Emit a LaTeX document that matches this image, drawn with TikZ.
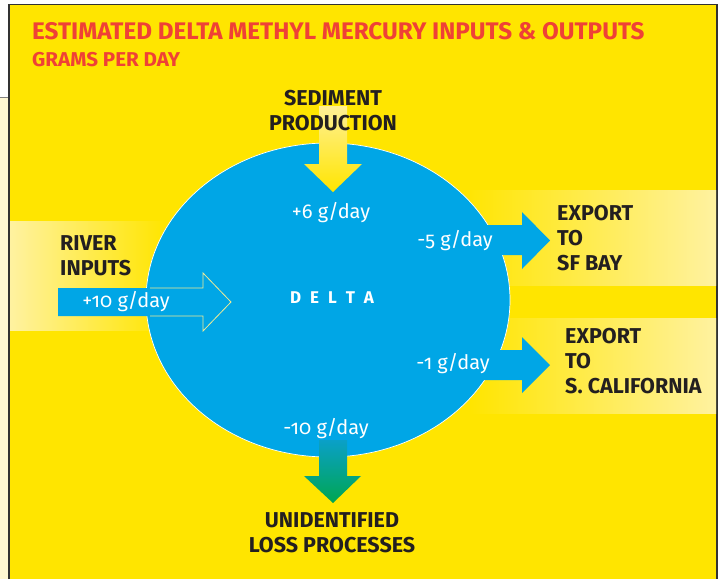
\documentclass[tikz,border=0pt]{standalone}
\usepackage{graphicx}
\usepackage{fontspec}
\setmainfont{Fira Sans}[Numbers=OldStyle]
\usetikzlibrary{shapes.geometric}
\definecolor{ylw}{RGB}{255,229,0}
\definecolor{pale}{RGB}{255,242,160}
\definecolor{paletop}{RGB}{255,240,150}
\definecolor{blu}{RGB}{0,166,230}
\definecolor{teal}{RGB}{10,160,200}
\definecolor{grn}{RGB}{0,166,81}
\definecolor{ttl}{RGB}{239,65,54}
\definecolor{ink}{RGB}{35,31,32}
\definecolor{cream}{RGB}{255,248,210}
\definecolor{frame}{RGB}{50,50,50}
\definecolor{edge}{RGB}{240,235,150}
\tikzset{
  lbl/.style={font=\bfseries\fontsize{21.5}{25}\selectfont, text=ink, inner sep=0pt, align=left},
  lblc/.style={lbl, align=center},
  val/.style={font=\fontsize{20}{22}\selectfont, text=white, inner sep=0pt},
}
\begin{document}
\begin{tikzpicture}[x=1pt,y=-1pt]
\useasboundingbox (0,0) rectangle (721,579);
\fill[white] (0,0) rectangle (721,579);
\fill[cream] (0,97) rectangle (9,579);
\draw[gray, line width=1pt] (0,97) -- (9,97);
\fill[ylw] (9,4.5) rectangle (717,579);
\draw[frame, line width=1.5pt] (9,579) -- (9,4.5) -- (717,4.5) -- (717,579);
% bands
\shade[left color=pale, right color=ylw] (10,221) rectangle (165,330);
\shade[left color=ylw, right color=pale] (463,190) rectangle (716,285);
\shade[left color=ylw, right color=pale] (470,318) rectangle (716,413);
% title
\node[anchor=base west, inner sep=0pt, text=ttl, font=\bfseries\fontsize{24}{28}\selectfont] (title) at (32,39) {\scalebox{1.01}[1]{ESTIMATED DELTA METHYL MERCURY INPUTS \& OUTPUTS}};
\node[anchor=base west, inner sep=0pt, text=ttl, font=\bfseries\fontsize{20}{24}\selectfont] (sub) at (32,66) {\scalebox{1.03}[1]{GRAMS PER DAY}};
% delta
\node[ellipse, minimum width=364pt, minimum height=314pt, inner sep=0pt, fill=blu, draw=white, line width=0.7pt] (delta) at (328,300) {};
\node[text=white, inner sep=0pt, font=\bfseries\fontsize{17}{20}\selectfont] (dlabel) at (332,298) {D\hspace{9pt}E\hspace{9pt}L\hspace{9pt}T\hspace{9pt}A};
% sediment arrow
\shade[top color=paletop, bottom color=ylw] (319,106) -- (347,106) -- (347,164) -- (362,164) -- (333,192) -- (304,164) -- (319,164) -- cycle;
\node[lblc] (sed) at (333,111) {SEDIMENT\\PRODUCTION};
\node[val] (v6) at (331,213) {+6 g/day};
% river arrow
\fill[blu] (58,288) -- (203,288) -- (203,273) -- (231,302) -- (203,331) -- (203,316) -- (58,316) -- cycle;
\draw[edge, line width=0.8pt] (150,288) -- (203,288) -- (203,273) -- (231,302) -- (203,331) -- (203,316) -- (150,316);
\node[lbl, anchor=west] (river) at (60,255.5) {RIVER\\INPUTS};
\node[val] (v10) at (126,302) {+10 g/day};
% exports
\fill[blu] (480,225) -- (522,225) -- (522,212) -- (550,240.5) -- (522,269) -- (522,255) -- (480,255) -- cycle;
\fill[blu] (480,350) -- (522,350) -- (522,337) -- (550,365) -- (522,393) -- (522,380) -- (480,380) -- cycle;
\node[val] (v5) at (455,241) {-5 g/day};
\node[val] (v1) at (453,364) {-1 g/day};
\node[lbl, anchor=west] (sf) at (557,238) {EXPORT\\TO\\SF BAY};
\node[lbl, anchor=west] (sc) at (565,361.5) {EXPORT\\TO\\S. CALIFORNIA};
% loss arrow
\shade[top color=teal, bottom color=grn] (319,440) -- (347,440) -- (347,476) -- (361,476) -- (333,503) -- (304,476) -- (319,476) -- cycle;
\node[val] (v10b) at (326,429) {-10 g/day};
\node[lblc] (loss) at (332,532.5) {UNIDENTIFIED\\LOSS PROCESSES};
\end{tikzpicture}
\end{document}
